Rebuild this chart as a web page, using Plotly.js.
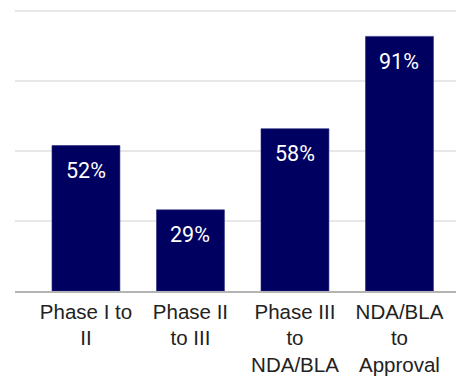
<!DOCTYPE html>
<html>
<head>
<meta charset="utf-8">
<script src="https://cdn.plot.ly/plotly-3.0.1.min.js"></script>
<style>html,body{margin:0;padding:0;background:#fff;}#chart{width:456px;height:376px;}</style>
</head>
<body>
<div id="chart"></div>
<script>
const categories = ["Phase I to<br>II", "Phase II<br>to III", "Phase III<br>to<br>NDA/BLA", "NDA/BLA<br>to<br>Approval"];
const values = [52, 29, 58, 91];
const valueLabels = ["52%", "29%", "58%", "91%"];

const trace = {
  type: 'bar',
  x: categories,
  y: values,
  width: 0.65,
  marker: {color: '#000060', line: {color: '#2a2a7a', width: 0.6}},
  hoverinfo: 'none'
};

const annotations = categories.map((c, i) => ({
  x: c, y: values[i], xref: 'x', yref: 'y',
  text: valueLabels[i], showarrow: false,
  yanchor: 'middle', yshift: -25,
  font: {family: 'Roboto, sans-serif', size: 21.5, color: '#ffffff'}
}));

const layout = {
  width: 456, height: 376,
  margin: {l: 15, r: 0, t: 0, b: 85},
  paper_bgcolor: '#ffffff', plot_bgcolor: '#ffffff',
  showlegend: false,
  xaxis: {
    type: 'category',
    range: [-0.679, 3.541],
    showgrid: false,
    showline: true, linecolor: '#b4b4b4', linewidth: 2,
    ticks: '',
    ticklabelstandoff: 1,
    tickfont: {family: '"Liberation Sans", Arial, sans-serif', size: 20.5, color: '#222222'}
  },
  yaxis: {
    range: [0, 104],
    dtick: 25,
    showticklabels: false,
    showgrid: true, gridcolor: '#e8e8e8', gridwidth: 2,
    zeroline: false
  },
  annotations: annotations
};

Plotly.newPlot('chart', [trace], layout, {displayModeBar: false, staticPlot: true});
</script>
</body>
</html>
